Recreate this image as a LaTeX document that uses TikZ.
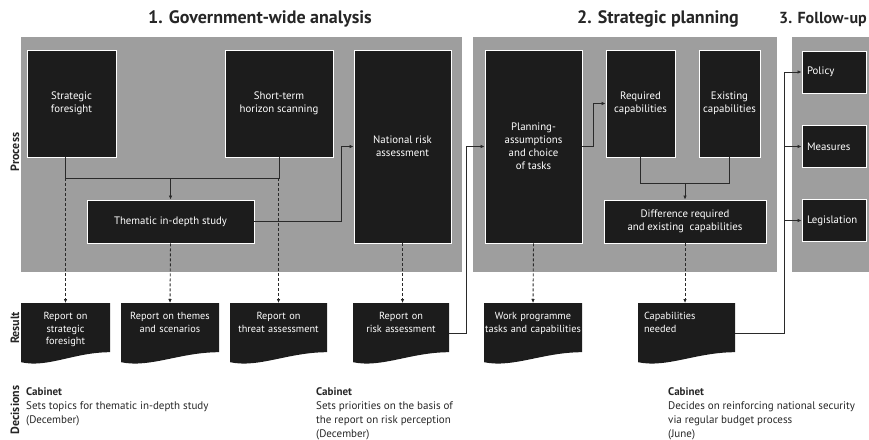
\documentclass[tikz,border=0pt]{standalone}
\usepackage{fontspec}
\setmainfont{PT Sans}
\usetikzlibrary{arrows.meta,positioning,calc}
\definecolor{panelgray}{HTML}{9E9E9E}
\definecolor{boxblack}{HTML}{1C1C1C}
\definecolor{linegray}{HTML}{2A2A2A}
\tikzset{
  pbox/.style={fill=boxblack, draw=white, line width=0.9pt, text=white, align=center, font=\fontsize{10.8}{13}\selectfont, inner sep=2pt},
  lbox/.style={pbox, align=left, text width=54pt, inner xsep=4pt, minimum width=64pt, minimum height=42pt},
  rdoc/.style={text=white, align=center, font=\fontsize{10.3}{12.8}\selectfont, inner xsep=1pt, inner ysep=5pt, text height=11pt, text depth=40pt, minimum height=61pt, anchor=north,
    path picture={\fill[boxfill] (path picture bounding box.north west) -- (path picture bounding box.north east)
      -- ($(path picture bounding box.south east)+(0,-12)$)
      .. controls ($(path picture bounding box.south west)!0.6!(path picture bounding box.south east)+(0,-12)$)
      and ($(path picture bounding box.south west)!0.3!(path picture bounding box.south east)+(0,4)$)
      .. ($(path picture bounding box.south west)+(0,-2)$) -- cycle;}},
  boxfill/.style={fill=boxblack},
  ttl/.style={font=\bfseries\fontsize{18}{21}\selectfont, text=black!85},
  side/.style={rotate=90, font=\bfseries\fontsize{12}{14}\selectfont, text=black!85},
  dec/.style={anchor=north west, align=left, font=\fontsize{11}{14}\selectfont, text=black!85, inner sep=0pt},
  fline/.style={linegray, line width=0.9pt},
  farr/.style={fline, -{Latex[length=4pt,width=3.6pt]}},
  dsharr/.style={farr, dash pattern=on 3pt off 2pt}
}

\begin{document}
\begin{tikzpicture}[x=1pt, y=-1pt]
\useasboundingbox (0,0) rectangle (869,439);
% phases
\fill[panelgray] (21,37) rectangle (462,272);
\fill[panelgray] (473,37) rectangle (777,272);
\fill[panelgray] (792,37) rectangle (875,272);
\node[ttl] (t1) at (260,19) {1. Government-wide analysis};
\node[ttl] (t2) at (658,19) {2. Strategic planning};
\node[ttl, font=\bfseries\fontsize{16}{19}\selectfont, anchor=west, inner xsep=0pt] (t3) at (779,19) {3. Follow-up};
\node[side] (lproc) at (15,152) {Process};
\node[side] (lres) at (15,328) {Result};
\node[side] (ldec) at (15,410) {Decisions};

% process
\node[pbox, minimum width=89pt, minimum height=107pt] (sf) at (71.5,103.5) {Strategic\\foresight};
\node[pbox, minimum width=108pt, minimum height=107pt] (sths) at (279,103.5) {Short-term\\horizon scanning};
\node[pbox, minimum width=97pt, minimum height=193pt] (nra) at (402.5,146.5) {National risk\\assessment};
\node[pbox, minimum width=167pt, minimum height=43pt] (tis) at (170.5,221.5) {Thematic in-depth study};
\node[pbox, minimum width=97pt, minimum height=193pt] (pac) at (533.5,146.5) {Planning-\\assumptions\\and choice\\of tasks};
\node[pbox, minimum width=69pt, minimum height=107pt] (rc) at (640.5,103.5) {Required\\capabilities};
\node[pbox, minimum width=61pt, minimum height=107pt] (ec) at (729.5,103.5) {Existing\\capabilities};
\node[pbox, minimum width=162pt, minimum height=43pt] (diff) at (685,221.5) {Difference required\\and existing\ \ capabilities};
\node[lbox] (pol) at (834,72) {Policy};
\node[lbox] (mea) at (834,146.5) {Measures};
\node[lbox] (leg) at (834,220.5) {Legislation};

% results
\node[rdoc, text width=87pt] (rsf) at (65.5,303) {Report on\\strategic\\foresight};
\node[rdoc, text width=96pt] (rts) at (170,303) {Report on themes\\and scenarios};
\node[rdoc, text width=95pt] (rta) at (278.5,303) {Report on\\threat assessment};
\node[rdoc, text width=94pt] (rra) at (401,303) {Report on\\risk assessment};
\node[rdoc, text width=96pt] (wp) at (533,303) {Work programme\\tasks and capabilities};
\node[rdoc, text width=85pt, inner xsep=6pt, align=left] (cn) at (686.5,303) {Capabilities\\needed};

% decisions
\node[dec] (d1) at (26,387) {\textbf{Cabinet}\\Sets topics for thematic in-depth study\\(December)};
\node[dec] (d2) at (316,387) {\textbf{Cabinet}\\Sets priorities on the basis of\\the report on risk perception\\(December)};
\node[dec] (d3) at (668,387) {\textbf{Cabinet}\\Decides on reinforcing national security\\via regular budget process\\(June)};

% connectors
\coordinate (ja) at ($(rsf.north |- sf.south)+(0,21)$);
\draw[fline] (rsf.north |- sf.south) -- (ja) -- (ja -| sths.south) -- (sths.south);
\draw[farr] (ja -| tis.north) -- (tis.north);
\draw[dsharr] (ja) -- (rsf.north);
\draw[dsharr] (ja -| rta.north) -- (rta.north);
\draw[dsharr] (tis.south) -- (rts.north);
\draw[farr] (tis.east) -| ([xshift=-12pt]nra.west) -- (nra.west);
\draw[dsharr] (nra.south) -- (nra.south |- rra.north);
\draw[farr] (rra.east) -| ([xshift=-18pt]pac.west) -- (pac.west);
\draw[farr] (pac.east) -| ([xshift=-12pt]rc.west) -- (rc.west);
\coordinate (jb) at ($(rc.south)+(0,26)$);
\draw[fline] (rc.south) -- (jb) -| (ec.south);
\draw[farr] (jb -| diff.north) -- (diff.north);
\draw[dsharr] (pac.south) -- (wp.north);
\draw[dsharr] (diff.south) -- (diff.south |- cn.north);
\draw[farr] (cn.east) -| ([xshift=-17pt]pol.west) -- (pol.west);
\draw[farr] ([xshift=-17pt]mea.west) -- (mea.west);
\draw[farr] ([xshift=-17pt]leg.west) -- (leg.west);
\end{tikzpicture}
\end{document}
